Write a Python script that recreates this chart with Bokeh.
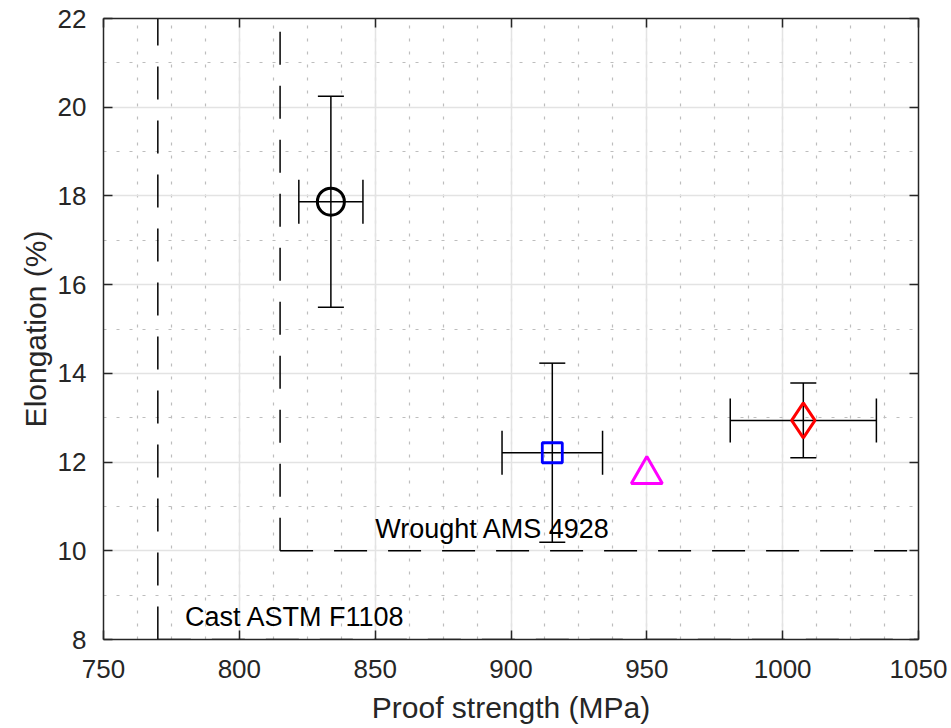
from bokeh.plotting import figure
from bokeh.models import (Range1d, LinearAxis, SingleIntervalTicker, Whisker, TeeHead,
                          ColumnDataSource, CustomJSTickFormatter)
from bokeh.core.properties import value
from bokeh.embed import file_html
from bokeh.resources import INLINE

# ---- data ----
proof = [833.7, 915.2, 950.0, 1007.6]          # MPa
proof_err = [11.8, 18.5, 0.0, 26.9]             # MPa (0 = no bar)
elong = [17.87, 12.21, 11.72, 12.94]            # %
elong_err = [2.38, 2.02, 0.0, 0.84]             # %
has_err = [True, True, False, True]

x_limits = [750, 1050]
y_limits = [8, 22]
x_tick_step = 50
y_tick_step = 2

spec_names = ["Cast ASTM F1108", "Wrought AMS 4928"]
spec_proof_min = [770, 815]
spec_elong_min = [8, 10]
spec_label_x = [780, 850]
spec_label_y = [8.5, 10.5]

FONT = "Liberation Sans"
AX = "#262626"

p = figure(width=951, height=728, output_backend="svg", toolbar_location=None,
           x_range=Range1d(*x_limits), y_range=Range1d(*y_limits),
           min_border_left=103, min_border_right=33, min_border_top=18, min_border_bottom=89,
           x_axis_label="Proof strength (MPa)", y_axis_label="Elongation (%)")
p.outline_line_color = None
p.background_fill_color = "white"
p.border_fill_color = "white"

xt = SingleIntervalTicker(interval=x_tick_step, num_minor_ticks=4)
yt = SingleIntervalTicker(interval=y_tick_step, num_minor_ticks=2)

def style_axis(ax, labels=True):
    ax.axis_line_color = AX
    ax.axis_line_width = 1.5
    ax.major_tick_line_color = AX
    ax.major_tick_line_width = 1.5
    ax.major_tick_in = 9
    ax.major_tick_out = 0
    ax.minor_tick_line_color = None
    ax.major_label_text_font = FONT
    ax.major_label_text_color = AX
    ax.major_label_text_font_size = "26px"
    ax.axis_label_text_font = FONT
    ax.axis_label_text_color = AX
    ax.axis_label_text_font_style = "normal"
    ax.axis_label_text_font_size = "30px"
    if not labels:
        ax.formatter = CustomJSTickFormatter(code="return '';")
        ax.major_label_standoff = 0

p.xaxis[0].ticker = xt
p.yaxis[0].ticker = yt
style_axis(p.xaxis[0])
style_axis(p.yaxis[0])
p.xaxis[0].major_label_standoff = 16
p.xaxis[0].axis_label_standoff = 10
p.yaxis[0].major_label_standoff = 13
p.yaxis[0].axis_label_standoff = 3

top = LinearAxis(ticker=SingleIntervalTicker(interval=x_tick_step, num_minor_ticks=4))
right = LinearAxis(ticker=SingleIntervalTicker(interval=y_tick_step, num_minor_ticks=2))
style_axis(top, labels=False)
style_axis(right, labels=False)
p.add_layout(top, "above")
p.add_layout(right, "right")

for g, t in ((p.xgrid[0], xt), (p.ygrid[0], yt)):
    g.ticker = t
    g.grid_line_color = "#e3e3e3"
    g.grid_line_width = 1.5
    g.minor_grid_line_color = "#bdbdbd"
    g.minor_grid_line_width = 1.2
    g.minor_grid_line_dash = "3 10"

# ---- specification lines ----
for px_min, el_min in zip(spec_proof_min, spec_elong_min):
    p.line([px_min, px_min], [el_min, y_limits[1]], line_color="black", line_width=1.5,
           line_dash="33 21")
    p.line([px_min, x_limits[1]], [el_min, el_min], line_color="black", line_width=1.5,
           line_dash="33 21")

p.text(x=spec_label_x, y=spec_label_y, text=spec_names, text_font=value(FONT),
       text_font_size="27px", text_color="black", text_baseline="middle", text_align="left")

# ---- error bars ----
idx = [i for i, h in enumerate(has_err) if h]
err_src = ColumnDataSource(dict(
    x=[proof[i] for i in idx],
    y=[elong[i] for i in idx],
    xl=[proof[i] - proof_err[i] for i in idx],
    xu=[proof[i] + proof_err[i] for i in idx],
    yl=[elong[i] - elong_err[i] for i in idx],
    yu=[elong[i] + elong_err[i] for i in idx],
))
vw = Whisker(source=err_src, base="x", lower="yl", upper="yu", dimension="height",
             line_color="black", line_width=1.5,
             lower_head=TeeHead(size=26, line_color="black", line_width=1.5),
             upper_head=TeeHead(size=26, line_color="black", line_width=1.5))
hw = Whisker(source=err_src, base="y", lower="xl", upper="xu", dimension="width",
             line_color="black", line_width=1.5,
             lower_head=TeeHead(size=44, line_color="black", line_width=1.5),
             upper_head=TeeHead(size=44, line_color="black", line_width=1.5))
p.add_layout(vw)
p.add_layout(hw)

# ---- markers ----
p.scatter([proof[0]], [elong[0]], marker="circle", size=27, fill_color=None,
          line_color="black", line_width=3)
p.scatter([proof[1]], [elong[1]], marker="square", size=20, fill_color=None,
          line_color="#0000ff", line_width=2.8)
p.scatter([proof[2]], [elong[2]], marker="triangle", size=31, fill_color=None,
          line_color="#ff00ff", line_width=3)
p.scatter([proof[3]], [elong[3]], marker="diamond", size=35, fill_color=None,
          line_color="#ff0000", line_width=3)

open("out.html", "w").write(file_html(p, INLINE))
